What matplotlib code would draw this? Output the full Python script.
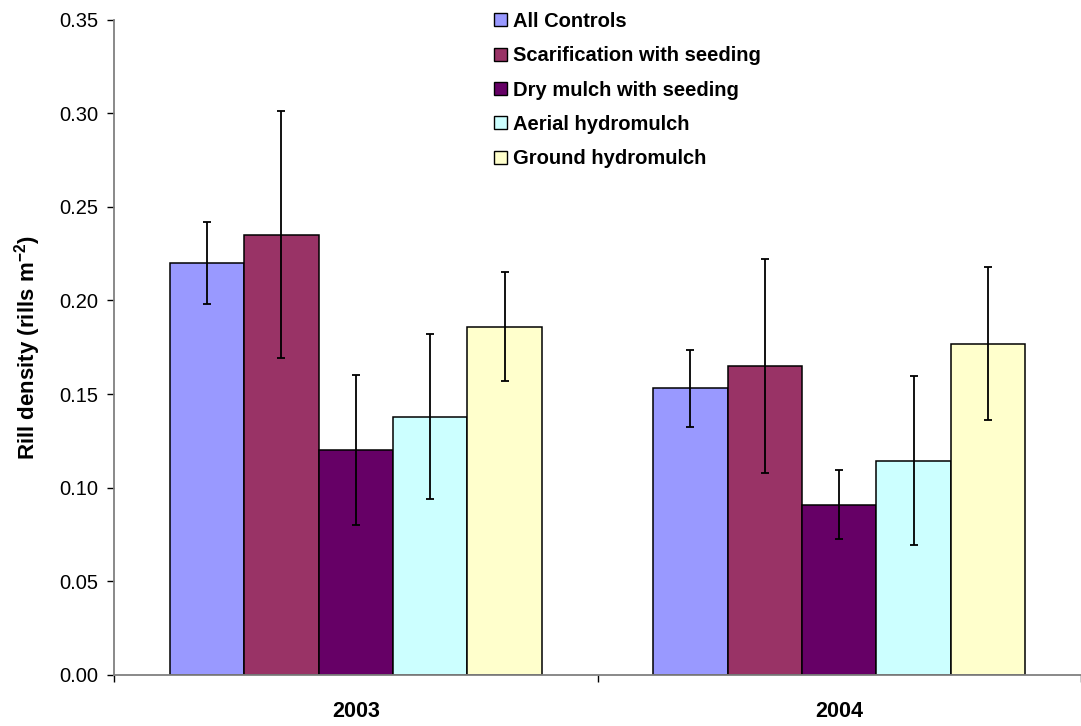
import matplotlib
matplotlib.use("Agg")
import matplotlib.pyplot as plt
import numpy as np
from matplotlib.patches import Patch

plt.rcParams['font.family'] = ['Liberation Sans', 'DejaVu Sans']
plt.rcParams['mathtext.fontset'] = 'custom'
plt.rcParams['mathtext.rm'] = 'Liberation Sans'
plt.rcParams['mathtext.bf'] = 'Liberation Sans:bold'

years = ["2003", "2004"]
treatments = ["All Controls", "Scarification with seeding", "Dry mulch with seeding",
              "Aerial hydromulch", "Ground hydromulch"]
colors = ["#9999FF", "#993366", "#660066", "#CCFFFF", "#FFFFCC"]

means = {
    "All Controls": [0.220, 0.153],
    "Scarification with seeding": [0.235, 0.165],
    "Dry mulch with seeding": [0.120, 0.091],
    "Aerial hydromulch": [0.138, 0.1145],
    "Ground hydromulch": [0.186, 0.177],
}
errors = {
    "All Controls": [0.022, 0.0205],
    "Scarification with seeding": [0.066, 0.057],
    "Dry mulch with seeding": [0.040, 0.0185],
    "Aerial hydromulch": [0.044, 0.0453],
    "Ground hydromulch": [0.029, 0.041],
}

fig = plt.figure(figsize=(10.81, 7.26), dpi=100)
W, H = 1081, 726
ax_left, ax_right, ax_top, ax_bottom = 114, 1081, 19.5, 675
ax = fig.add_axes([ax_left / W, (H - ax_bottom) / H,
                   (ax_right - ax_left) / W, (ax_bottom - ax_top) / H])

x = np.arange(len(years))
bw = 0.154
for i, t in enumerate(treatments):
    pos = x + (i - 2) * bw
    ax.bar(pos, means[t], width=bw, color=colors[i], edgecolor="black",
           linewidth=1.1, zorder=2)
    ax.errorbar(pos, means[t], yerr=errors[t], fmt="none", ecolor="black",
                elinewidth=1.3, capsize=3, capthick=1.3, zorder=3)

ax.set_xlim(-0.5, 1.5)
ax.set_ylim(0, 0.35)
ax.set_yticks(np.arange(0, 0.351, 0.05))
ax.set_yticklabels([f"{v:.2f}" for v in np.arange(0, 0.351, 0.05)], fontsize=14.5)
ax.set_xticks(x)
ax.set_xticklabels(years, fontsize=15.5, fontweight="bold")
ax.set_xticks([-0.5, 0.5, 1.5], minor=True)
ax.tick_params(axis="x", which="major", length=0, pad=19)
ax.tick_params(axis="x", which="minor", length=5, width=1, color="black", direction="out")
ax.tick_params(axis="y", length=5, width=1, color="black", direction="out", pad=6)

for s in ["top", "right"]:
    ax.spines[s].set_visible(False)
for s in ["left", "bottom"]:
    ax.spines[s].set_color("#808080")
    ax.spines[s].set_linewidth(1.3)

ax.set_ylabel(r"Rill density (rills m$\mathbf{^{-2}}$)", fontsize=16,
              fontweight="bold", labelpad=12)

handles = [Patch(facecolor=c, edgecolor="black", linewidth=1.0) for c in colors]
leg = fig.legend(handles, treatments, loc="upper left",
                 bbox_to_anchor=(486 / W, 1 - 4 / H), frameon=False,
                 prop={"size": 14.5, "weight": "bold"},
                 handlelength=0.62, handleheight=0.62, handletextpad=0.3,
                 labelspacing=0.76, borderaxespad=0)

fig.savefig("out.png", dpi=100)
